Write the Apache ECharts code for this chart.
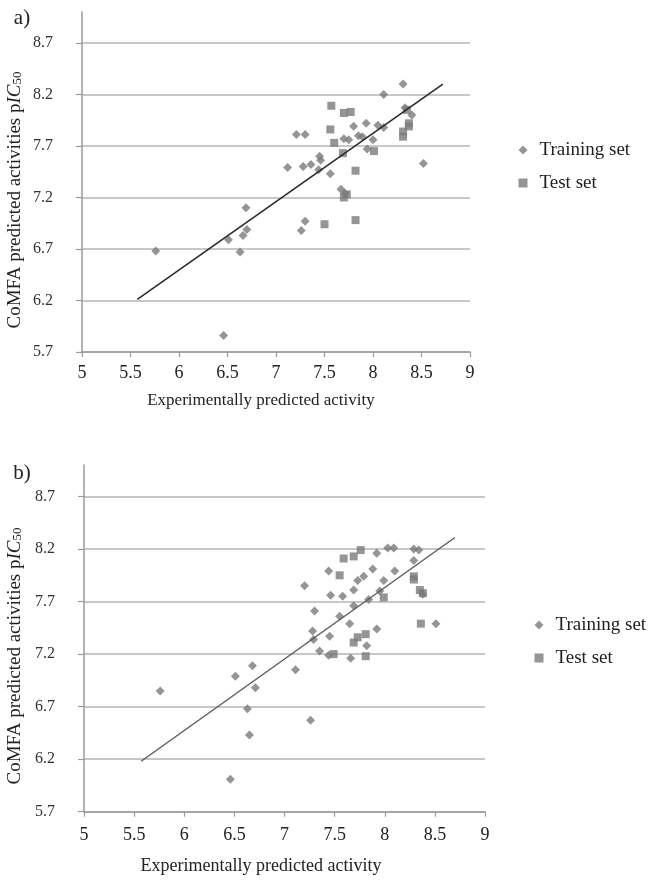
<!DOCTYPE html>
<html><head><meta charset="utf-8">
<script src="https://cdn.jsdelivr.net/npm/echarts@6/dist/echarts.min.js"></script>
<style>html,body{margin:0;padding:0;background:#fff}#c{width:652px;height:880px}</style>
</head><body><div id="c"></div>
<script>
const xTicks = [5, 5.5, 6, 6.5, 7, 7.5, 8, 8.5, 9];
const yTicks = [5.7, 6.2, 6.7, 7.2, 7.7, 8.2, 8.7];

const trainA = [[5.76,6.68],[6.46,5.86],[6.51,6.79],[6.63,6.67],[6.66,6.83],[6.70,6.89],[6.69,7.10],
 [7.12,7.49],[7.21,7.81],[7.30,7.81],[7.26,6.88],[7.30,6.97],[7.28,7.50],[7.36,7.52],[7.44,7.47],
 [7.45,7.60],[7.46,7.56],[7.56,7.43],[7.67,7.28],[7.71,7.24],[7.70,7.77],[7.75,7.76],[7.80,7.89],
 [7.85,7.80],[7.89,7.79],[7.93,7.92],[7.94,7.67],[8.00,7.76],[8.05,7.90],[8.11,7.88],[8.11,8.20],
 [8.31,8.30],[8.33,8.07],[8.40,8.00],[8.52,7.53]];
const testA = [[7.57,8.09],[7.70,8.02],[7.77,8.03],[7.56,7.86],[7.60,7.73],[7.69,7.63],[8.01,7.65],
 [8.37,7.92],[8.37,7.89],[8.31,7.84],[8.31,7.79],[8.35,8.05],[7.82,7.46],[7.73,7.23],[7.70,7.20],
 [7.50,6.94],[7.82,6.98]];
const lineA = [[5.57,6.21],[8.72,8.30]];

const trainB = [[5.76,6.85],[6.46,6.01],[6.51,6.99],[6.63,6.68],[6.65,6.43],[6.68,7.09],[6.71,6.88],
 [7.11,7.05],[7.26,6.57],[7.20,7.85],[7.44,7.99],[7.46,7.76],[7.58,7.75],[7.69,7.81],[7.73,7.90],
 [7.79,7.94],[7.88,8.01],[7.92,8.16],[8.03,8.21],[8.09,8.21],[8.29,8.20],[8.34,8.19],[8.29,8.09],
 [7.99,7.90],[8.10,7.99],[8.38,7.77],[8.51,7.49],[7.30,7.61],[7.55,7.56],[7.69,7.66],[7.65,7.49],
 [7.28,7.42],[7.29,7.34],[7.45,7.37],[7.35,7.23],[7.44,7.19],[7.66,7.16],[7.82,7.28],[7.92,7.44],
 [7.84,7.72],[7.95,7.80]];
const testB = [[7.59,8.11],[7.69,8.13],[7.76,8.19],[7.55,7.95],[7.99,7.74],[8.29,7.94],[8.29,7.91],
 [8.35,7.81],[8.38,7.78],[8.36,7.49],[7.73,7.36],[7.81,7.39],[7.69,7.31],[7.49,7.20],[7.81,7.18]];
const lineB = [[5.57,6.18],[8.70,8.31]];

const FONT = '"Liberation Serif", "DejaVu Serif", serif';
const GRID_C = '#b4b4b4';
const MARK_C = '#7a7a7a';

function xAxis(gi, margin) {
  return {
    type: 'value', gridIndex: gi, min: xTicks[0], max: xTicks[xTicks.length - 1], interval: 0.5,
    axisLine: {show: true, lineStyle: {color: '#9a9a9a', width: 1.5}},
    axisTick: {show: true, length: 5, lineStyle: {color: '#9a9a9a', width: 1.2}},
    splitLine: {show: false},
    axisLabel: {color: '#222', fontFamily: FONT, fontSize: 18, margin: margin,
      formatter: v => String(v)}
  };
}
function yAxis(gi) {
  return {
    type: 'value', gridIndex: gi, min: 5.7, max: 9.0,
    axisLine: {show: true, lineStyle: {color: '#9a9a9a', width: 1.5}},
    axisTick: {show: true, length: 6, customValues: yTicks, lineStyle: {color: '#9a9a9a', width: 1.2}},
    splitLine: {show: true, lineStyle: {color: GRID_C, width: 1.5}},
    axisLabel: {color: '#333', fontFamily: FONT, fontSize: 16, margin: 29, customValues: yTicks,
      formatter: v => v.toFixed(1)}
  };
}
function series(name, data, sym, size, gi) {
  return {name, type: 'scatter', xAxisIndex: gi, yAxisIndex: gi, data, symbol: sym, symbolSize: size,
    itemStyle: {color: MARK_C}, z: 3};
}
function line(data, gi, color, w) {
  return {type: 'line', xAxisIndex: gi, yAxisIndex: gi, data, symbol: 'none', silent: true,
    lineStyle: {color: color, width: w}, z: 4};
}
const rich = {
  b: {fontFamily: FONT, fontSize: 19, color: '#222'},
  i: {fontFamily: FONT, fontSize: 19, fontStyle: 'italic', color: '#222'},
  s: {fontFamily: FONT, fontSize: 13, color: '#222', verticalAlign: 'bottom'}
};
function ytitle(cx, cy) {
  return {type: 'text', x: cx, y: cy, rotation: Math.PI / 2,
    style: {text: '{b|CoMFA predicted activities p}{i|IC}{s|50}', rich: rich,
      align: 'center', verticalAlign: 'middle', fill: '#222'}};
}
function txt(x, y, s, size) {
  return {type: 'text', x, y, style: {text: s, fontFamily: FONT, fontSize: size, fill: '#222',
    align: 'center', verticalAlign: 'middle'}};
}
function legend(left, top) {
  return {orient: 'vertical', left: left, top: top, padding: 0, itemWidth: 9, itemHeight: 9, itemGap: 13,
    textStyle: {fontFamily: FONT, fontSize: 19, color: '#222', lineHeight: 20, padding: [0, 0, 0, 7]},
    data: [{name: 'Training set', icon: 'diamond'}, {name: 'Test set', icon: 'rect'}]};
}

const chart = echarts.init(document.getElementById('c'), null, {renderer: 'canvas'});
chart.setOption({
  animation: false,
  backgroundColor: '#fff',
  grid: [
    {left: 82, top: 12, width: 388, height: 340},
    {left: 84, top: 465, width: 401, height: 346.7}
  ],
  xAxis: [xAxis(0, 12), xAxis(1, 15)],
  yAxis: [yAxis(0), yAxis(1)],
  legend: [legend(518.5, 140), legend(534.5, 615)],
  graphic: [
    txt(22, 18, 'a)', 21),
    txt(22, 473, 'b)', 21),
    ytitle(15, 200),
    ytitle(15, 656),
    txt(261, 401, 'Experimentally predicted activity', 17),
    txt(261, 866, 'Experimentally predicted activity', 18)
  ],
  series: [
    series('Training set', trainA, 'diamond', 9, 0),
    series('Test set', testA, 'rect', 8, 0),
    line(lineA, 0, '#2a2a2a', 1.6),
    series('Training set', trainB, 'diamond', 9, 1),
    series('Test set', testB, 'rect', 8, 1),
    line(lineB, 1, '#5a5a5a', 1.4)
  ]
});
</script>
</body></html>
